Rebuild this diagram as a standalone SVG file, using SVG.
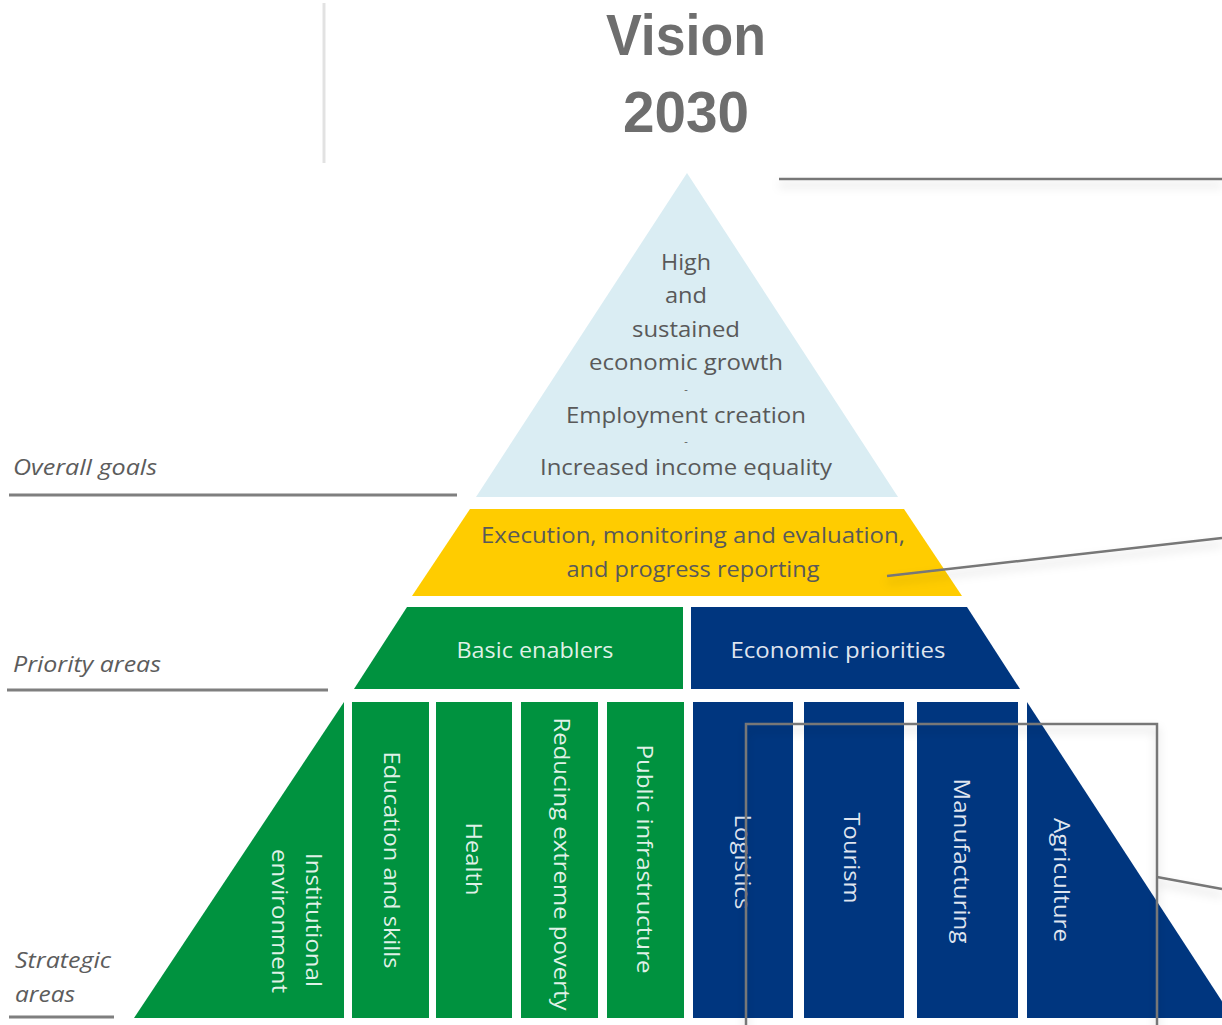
<svg xmlns="http://www.w3.org/2000/svg" width="1222" height="1025" viewBox="0 0 1222 1025">
<style>
.title{font-family:"Liberation Sans","Open Sans",sans-serif;font-weight:700;font-size:58px;fill:#6e6e6e;text-anchor:middle;}
.lab{font-family:"Open Sans","Liberation Sans",sans-serif;font-style:italic;font-size:21px;fill:#5c5c5c;}
.goal{font-family:"Open Sans","Liberation Sans",sans-serif;font-size:21px;fill:#595959;text-anchor:middle;}
.dash{font-family:"Open Sans","Liberation Sans",sans-serif;font-size:11px;fill:#595959;text-anchor:middle;}
.wt{font-family:"Open Sans","Liberation Sans",sans-serif;font-size:21px;fill:#ffffff;fill-opacity:0.88;text-anchor:middle;}
.uline{stroke:#7f7f7f;stroke-width:3;fill:none;}
.conn{stroke:#777777;stroke-width:2.5;fill:none;}
.green{fill:#00923f;}
.blue{fill:#00367f;}
</style>
<defs>
<filter id="sh" x="-10%" y="-20%" width="120%" height="160%">
<feDropShadow dx="0" dy="6" stdDeviation="5" flood-color="#000" flood-opacity="0.18"/>
</filter>
</defs>
<rect width="1222" height="1025" fill="#ffffff"/>
<line x1="324" y1="3" x2="324" y2="163" stroke="#e2e2e2" stroke-width="3"/>
<g id="title">
<text class="title" x="686" y="55" textLength="160" lengthAdjust="spacingAndGlyphs">Vision</text>
<text class="title" x="686" y="132" textLength="126" lengthAdjust="spacingAndGlyphs">2030</text>
</g>
<g id="labels">
<text class="lab" x="13" y="475" textLength="144" lengthAdjust="spacingAndGlyphs">Overall goals</text>
<line class="uline" x1="9" y1="495" x2="457" y2="495"/>
<text class="lab" x="13" y="672" textLength="148" lengthAdjust="spacingAndGlyphs">Priority areas</text>
<line class="uline" x1="7" y1="690" x2="328" y2="690"/>
<text class="lab" x="15" y="968" textLength="96" lengthAdjust="spacingAndGlyphs">Strategic</text>
<text class="lab" x="15" y="1002" textLength="60" lengthAdjust="spacingAndGlyphs">areas</text>
<line class="uline" x1="9" y1="1017" x2="114" y2="1017"/>
</g>
<g id="overall-goals">
<polygon points="687,173 898,497 476,497" fill="#daedf3"/>
<text class="goal" x="686" y="270" textLength="50" lengthAdjust="spacingAndGlyphs">High</text>
<text class="goal" x="686" y="303" textLength="42" lengthAdjust="spacingAndGlyphs">and</text>
<text class="goal" x="686" y="337" textLength="108" lengthAdjust="spacingAndGlyphs">sustained</text>
<text class="goal" x="686" y="370" textLength="194" lengthAdjust="spacingAndGlyphs">economic growth</text>
<text class="dash" x="686" y="393">-</text>
<text class="goal" x="686" y="423" textLength="240" lengthAdjust="spacingAndGlyphs">Employment creation</text>
<text class="dash" x="686" y="445">-</text>
<text class="goal" x="686" y="475" textLength="292" lengthAdjust="spacingAndGlyphs">Increased income equality</text>
</g>
<g id="execution">
<polygon points="470,509 904,509 962,596 412,596" fill="#ffcc00"/>
<text class="goal" x="693" y="543" fill="#5a5a4a" textLength="424" lengthAdjust="spacingAndGlyphs">Execution, monitoring and evaluation,</text>
<text class="goal" x="693" y="577" fill="#5a5a4a" textLength="253" lengthAdjust="spacingAndGlyphs">and progress reporting</text>
</g>
<g id="basic-enablers">
<polygon class="green" points="407,607 683,607 683,689 354,689"/>
<text class="wt" x="535" y="658" textLength="157" lengthAdjust="spacingAndGlyphs">Basic enablers</text>
</g>
<g id="economic-priorities">
<polygon class="blue" points="691,607 967,607 1020,689 691,689"/>
<text class="wt" x="838" y="658" textLength="215" lengthAdjust="spacingAndGlyphs">Economic priorities</text>
</g>
<g id="institutional-environment">
<polygon class="green" points="344,702 344,1018 134,1018"/>
<text class="wt" transform="translate(306,920) rotate(90)" textLength="134" lengthAdjust="spacingAndGlyphs">Institutional</text>
<text class="wt" transform="translate(272,921) rotate(90)" textLength="144" lengthAdjust="spacingAndGlyphs">environment</text>
</g>
<g id="education">
<rect class="green" x="352" y="702" width="77" height="316"/>
<text class="wt" transform="translate(384,860) rotate(90)" textLength="217" lengthAdjust="spacingAndGlyphs">Education and skills</text>
</g>
<g id="health">
<rect class="green" x="436" y="702" width="76" height="316"/>
<text class="wt" transform="translate(466,859) rotate(90)" textLength="73" lengthAdjust="spacingAndGlyphs">Health</text>
</g>
<g id="poverty">
<rect class="green" x="521" y="702" width="77" height="316"/>
<text class="wt" transform="translate(554,864) rotate(90)" textLength="293" lengthAdjust="spacingAndGlyphs">Reducing extreme poverty</text>
</g>
<g id="infrastructure">
<rect class="green" x="607" y="702" width="77" height="316"/>
<text class="wt" transform="translate(637,859) rotate(90)" textLength="229" lengthAdjust="spacingAndGlyphs">Public infrastructure</text>
</g>
<g id="logistics">
<rect class="blue" x="693" y="702" width="100" height="316"/>
<text class="wt" transform="translate(735,862) rotate(90)" textLength="95" lengthAdjust="spacingAndGlyphs">Logistics</text>
</g>
<g id="tourism">
<rect class="blue" x="804" y="702" width="100" height="316"/>
<text class="wt" transform="translate(844,858) rotate(90)" textLength="91" lengthAdjust="spacingAndGlyphs">Tourism</text>
</g>
<g id="manufacturing">
<rect class="blue" x="917" y="702" width="101" height="316"/>
<text class="wt" transform="translate(954,861) rotate(90)" textLength="165" lengthAdjust="spacingAndGlyphs">Manufacturing</text>
</g>
<g id="agriculture">
<polygon class="blue" points="1027,702 1233,1018 1027,1018"/>
<text class="wt" transform="translate(1054,880) rotate(90)" textLength="124" lengthAdjust="spacingAndGlyphs">Agriculture</text>
</g>
<g id="connectors" filter="url(#sh)">
<line class="conn" x1="779" y1="179" x2="1222" y2="179"/>
<line class="conn" x1="887" y1="576" x2="1222" y2="538"/>
<polyline class="conn" points="746,1030 746,724 1157,724 1157,1030"/>
<line class="conn" x1="1157" y1="877" x2="1222" y2="889"/>
</g>
</svg>
